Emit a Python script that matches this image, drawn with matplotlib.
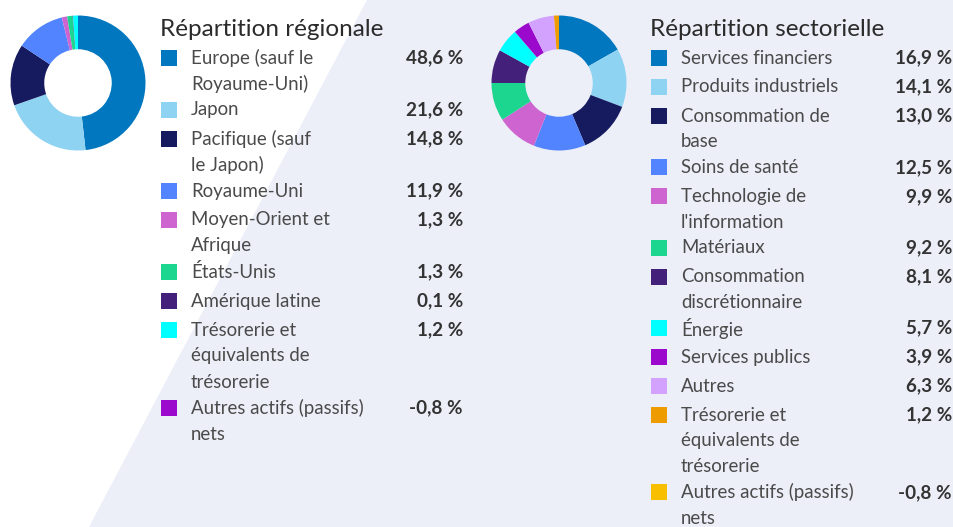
import matplotlib.pyplot as plt
from matplotlib.patches import Polygon, Rectangle

# Regional breakdown
region_labels = ["Europe (sauf le\nRoyaume-Uni)", "Japon", "Pacifique (sauf\nle Japon)", "Royaume-Uni",
                 "Moyen-Orient et\nAfrique", "États-Unis", "Amérique latine",
                 "Trésorerie et\néquivalents de\ntrésorerie", "Autres actifs (passifs)\nnets"]
region_values = [48.6, 21.6, 14.8, 11.9, 1.3, 1.3, 0.1, 1.2, -0.8]
region_colors = ["#0077be", "#8fd3f2", "#161a5e", "#5384ff", "#cd64cf", "#1cd58e", "#43207a",
                 "#00ffff", "#9b0acc"]

# Sector breakdown
sector_labels = ["Services financiers", "Produits industriels", "Consommation de\nbase", "Soins de santé",
                 "Technologie de\nl'information", "Matériaux", "Consommation\ndiscrétionnaire", "Énergie",
                 "Services publics", "Autres", "Trésorerie et\néquivalents de\ntrésorerie",
                 "Autres actifs (passifs)\nnets"]
sector_values = [16.9, 14.1, 13.0, 12.5, 9.9, 9.2, 8.1, 5.7, 3.9, 6.3, 1.2, -0.8]
sector_colors = ["#0077be", "#8fd3f2", "#161a5e", "#5384ff", "#cd64cf", "#1cd58e", "#43207a", "#00ffff",
                 "#9b0acc", "#d3a2ff", "#ee9b00", "#f8bf00"]

W, H = 954, 527
plt.rcParams['font.family'] = ['Lato', 'DejaVu Sans']

fig = plt.figure(figsize=(W / 100, H / 100), dpi=100)
bg = fig.add_axes([0, 0, 1, 1])
bg.set_xlim(0, W)
bg.set_ylim(H, 0)
bg.axis('off')
bg.add_patch(Polygon([(367, 0), (W, 0), (W, H), (89, H)], closed=True, facecolor='#eceef8', edgecolor='none'))


def fmt(v):
    return f"{v:.1f} %".replace('.', ',')


def donut(cx, cy, r, values, colors):
    ax = fig.add_axes([(cx - r) / W, 1 - (cy + r) / H, 2 * r / W, 2 * r / H])
    pos = [(v, c) for v, c in zip(values, colors) if v > 0]
    ax.pie([p[0] for p in pos], colors=[p[1] for p in pos], startangle=90, counterclock=False,
           wedgeprops=dict(width=0.5, linewidth=0))
    ax.set_xlim(-1, 1)
    ax.set_ylim(-1, 1)
    ax.set_aspect('equal')


def legend(x0, xval, title, labels, values, colors, line_h):
    bg.text(x0, 36, title, fontsize=17.5, color='#2b2b2b', va='baseline', ha='left')
    y = 58
    for lab, v, c in zip(labels, values, colors):
        bg.add_patch(Rectangle((x0 + 1, y - 8), 16, 16, facecolor=c, edgecolor='none'))
        lines = lab.split('\n')
        for i, ln in enumerate(lines):
            bg.text(x0 + 31, y + i * line_h, ln, fontsize=13.4, color='#4a4a4a', va='center', ha='left')
        bg.text(xval, y, fmt(v), fontsize=13.6, color='#333333', fontweight='bold', va='center', ha='right')
        y += max(29, line_h * len(lines))


donut(78, 83, 67.5, region_values, region_colors)
donut(559, 83, 67.5, sector_values, sector_colors)
legend(160, 463, "Répartition régionale", region_labels, region_values, region_colors, 26)
legend(650, 952, "Répartition sectorielle", sector_labels, sector_values, sector_colors, 25.7)

fig.savefig("out.png", dpi=100)
